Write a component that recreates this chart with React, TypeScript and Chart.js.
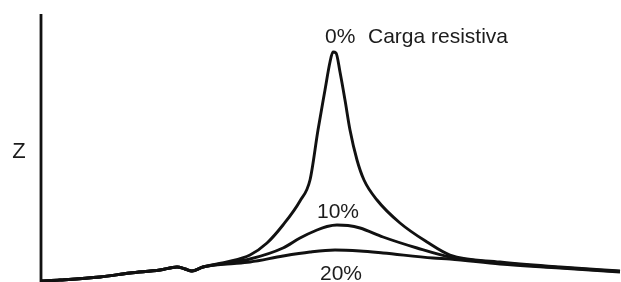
import React, { useEffect, useRef } from "react";
import { Chart, registerables } from "chart.js";

Chart.register(...registerables);

// Frequency steps (arbitrary units) and impedance magnitude (arbitrary units)
const freq0 = [0, 19, 59, 89, 119, 136, 144, 151, 162, 186, 209, 226, 242, 259, 269, 277, 284, 289, 292, 295, 299, 304, 309, 316, 323, 336, 359, 386, 409, 459, 519, 579];
const z0 = [1, 2, 5, 9, 12, 15, 13, 11, 15, 20, 27, 39, 57, 81, 102, 152, 192, 220, 230, 229, 210, 182, 152, 122, 102, 82, 59, 40, 27, 20, 15, 11];

const freq10 = [0, 19, 59, 89, 119, 136, 144, 151, 162, 186, 209, 242, 259, 276, 286, 296, 307, 319, 342, 376, 409, 459, 519, 579];
const z10 = [1, 2, 5, 9, 12, 15, 13, 11, 15, 19, 23, 34, 44, 52, 55.5, 57, 56.5, 54, 45, 34, 25, 19, 14.5, 10.5];

const freq20 = [0, 19, 59, 89, 119, 136, 144, 151, 162, 186, 209, 242, 269, 294, 319, 342, 392, 409, 459, 519, 579];
const z20 = [1, 2, 5, 9, 12, 15, 13, 11, 15, 18, 20, 26, 30, 32, 31, 29, 24, 23, 18, 14, 10];

const seriesNames = ["0%", "10%", "20%"];

const toPoints = (xs: number[], ys: number[]) => xs.map((x, i) => ({ x, y: ys[i] }));

type Note = { text: string; x: number; y: number; align: CanvasTextAlign; baseline: CanvasTextBaseline; size: number };
const notes: Note[] = [
  { text: "0%", x: 284, y: 239, align: "left", baseline: "alphabetic", size: 21 },
  { text: "Carga resistiva", x: 327, y: 239, align: "left", baseline: "alphabetic", size: 21 },
  { text: "10%", x: 297, y: 64, align: "center", baseline: "alphabetic", size: 21 },
  { text: "20%", x: 300, y: 2, align: "center", baseline: "alphabetic", size: 21 },
  { text: "Z", x: -22, y: 130, align: "center", baseline: "middle", size: 22 },
];

const decorPlugin = {
  id: "decor",
  afterDatasetsDraw(chart: any) {
    const { ctx, chartArea, scales } = chart;
    const xs = scales.x;
    const ys = scales.y;
    ctx.save();
    // vertical Z axis
    ctx.strokeStyle = "#111";
    ctx.lineWidth = 2.8;
    const ax = xs.getPixelForValue(0);
    ctx.beginPath();
    ctx.moveTo(ax, chartArea.top);
    ctx.lineTo(ax, chartArea.bottom + 2);
    ctx.stroke();
    // text notes
    ctx.fillStyle = "#1c1c1c";
    for (const n of notes) {
      ctx.font = `${n.size}px "Liberation Sans", Arial, sans-serif`;
      ctx.textAlign = n.align;
      ctx.textBaseline = n.baseline;
      ctx.fillText(n.text, xs.getPixelForValue(n.x), ys.getPixelForValue(n.y));
    }
    ctx.restore();
  },
};

export default function App() {
  const ref = useRef<HTMLCanvasElement | null>(null);
  useEffect(() => {
    if (!ref.current) return;
    const mk = (label: string, xs: number[], ys: number[]) => ({
      label,
      data: toPoints(xs, ys),
      borderColor: "#111",
      borderWidth: 2.9,
      pointRadius: 0,
      fill: false,
      cubicInterpolationMode: "monotone" as const,
    });
    const chart = new Chart(ref.current, {
      type: "line",
      data: {
        datasets: [
          mk(seriesNames[0], freq0, z0),
          mk(seriesNames[1], freq10, z10),
          mk(seriesNames[2], freq20, z20),
        ],
      },
      options: {
        animation: false,
        responsive: false,
        maintainAspectRatio: false,
        devicePixelRatio: 1,
        layout: { padding: { left: 41, top: 14, right: 0, bottom: 0 } },
        plugins: { legend: { display: false }, tooltip: { enabled: false } },
        scales: {
          x: { type: "linear", display: false, min: 0, max: 580 },
          y: { type: "linear", display: false, min: 0, max: 268 },
        },
      },
      plugins: [decorPlugin],
    });
    return () => chart.destroy();
  }, []);
  return (
    <div style={{ position: "absolute", left: 0, top: 0, width: 621, height: 282, background: "#fff" }}>
      <canvas ref={ref} width={621} height={282} style={{ display: "block" }} />
    </div>
  );
}
